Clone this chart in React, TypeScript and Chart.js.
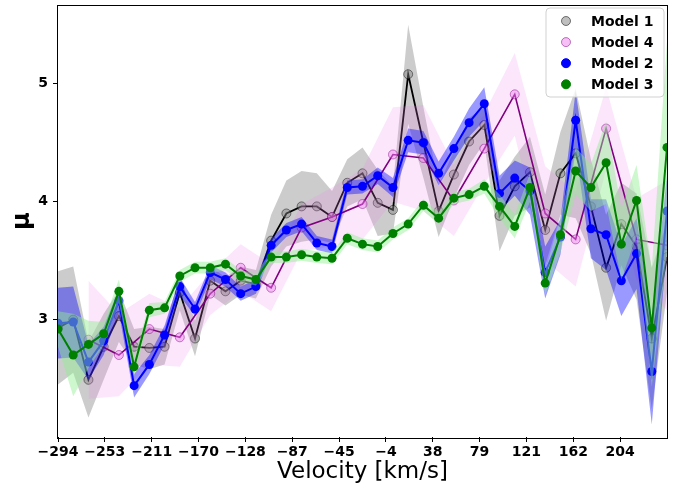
import React, { useEffect, useRef } from 'react';
import { Chart, registerables } from 'chart.js';

Chart.register(...registerables);

// ---- data ----
const VELOCITY = [
  -294, -280.53, -267.05, -253.58, -240.1, -226.63, -213.15, -199.68, -186.2, -172.73,
  -159.25, -145.78, -132.3, -118.83, -105.35, -91.88, -78.4, -64.93, -51.45, -37.98,
  -24.5, -11.03, 2.45, 15.93, 29.4, 42.88, 56.35, 69.83, 83.3, 96.78,
  110.25, 123.73, 137.2, 150.68, 164.15, 177.63, 191.1, 204.58, 218.05, 231.53, 245,
];

const X_TICKS = [-294, -252.54, -211.08, -169.62, -128.15, -86.69, -45.23, -3.77, 37.69, 79.15, 120.62, 162.08, 203.54];
const X_TICK_LABELS = ['−294', '−253', '−211', '−170', '−128', '−87', '−45', '−4', '38', '79', '121', '162', '204'];
const Y_TICKS = [3, 4, 5];

const MODEL1 = [
  2.93, 3.0, 2.49, 2.77, 3.03, 2.77, 2.76, 2.77, 3.23, 2.84,
  3.33, 3.24, 3.33, 3.3, 3.67, 3.9, 3.96, 3.96, 3.87, 4.16,
  4.24, 3.99, 3.93, 5.08, 4.5, 3.92, 4.23, 4.51, 4.65, 3.88,
  4.13, 4.25, 3.76, 4.24, 4.41, 3.96, 3.44, 3.81, 3.62, 2.84, 3.53,
];
const MODEL1_ERR = [
  0.48, 0.45, 0.32, 0.28, 0.22, 0.15, 0.18, 0.15, 0.15, 0.15,
  0.12, 0.12, 0.12, 0.12, 0.22, 0.28, 0.3, 0.28, 0.22, 0.2,
  0.22, 0.28, 0.2, 0.42, 0.3, 0.22, 0.2, 0.2, 0.15, 0.3,
  0.25, 0.3, 0.3, 0.35, 0.55, 0.4, 0.45, 0.35, 0.45, 0.6, 0.3,
];

const MODEL4 = [
  null, null, 2.83, null, 2.7, null, 2.92, null, 2.85, null,
  3.22, null, 3.44, null, 3.27, null, 3.78, null, 3.87, null,
  3.98, null, 4.4, null, 4.37, null, 4.01, null, 4.45, null,
  4.91, null, 3.9, null, 3.68, null, 4.62, null, 3.68, null, 3.63,
];
const MODEL4_ERR = [
  null, null, 0.5, null, 0.35, null, 0.3, null, 0.25, null,
  0.18, null, 0.2, null, 0.2, null, 0.2, null, 0.25, null,
  0.3, null, 0.4, null, 0.45, null, 0.3, null, 0.3, null,
  0.35, null, 0.4, null, 0.4, null, 0.35, null, 0.35, null, 0.55,
];

const MODEL2 = [
  2.97, 2.98, 2.64, 2.82, 3.16, 2.44, 2.62, 2.87, 3.28, 3.09,
  3.4, 3.34, 3.22, 3.28, 3.63, 3.76, 3.81, 3.65, 3.62, 4.12,
  4.13, 4.22, 4.12, 4.52, 4.5, 4.24, 4.45, 4.67, 4.83, 4.07,
  4.2, 4.09, 3.4, 3.7, 4.69, 3.77, 3.72, 3.33, 3.56, 2.56, 3.92,
];
const MODEL2_ERR = [
  0.3, 0.3, 0.15, 0.12, 0.1, 0.1, 0.08, 0.08, 0.08, 0.06,
  0.06, 0.06, 0.06, 0.06, 0.06, 0.06, 0.06, 0.06, 0.06, 0.06,
  0.06, 0.07, 0.08, 0.1, 0.1, 0.1, 0.1, 0.12, 0.14, 0.15,
  0.15, 0.2, 0.22, 0.15, 0.25, 0.25, 0.3, 0.3, 0.3, 0.45, 0.3,
];

const MODEL3 = [
  2.92, 2.7, 2.79, 2.88, 3.24, 2.6, 3.08, 3.1, 3.37, 3.44,
  3.44, 3.47, 3.37, 3.34, 3.53, 3.53, 3.55, 3.53, 3.52, 3.69,
  3.64, 3.62, 3.73, 3.81, 3.97, 3.86, 4.03, 4.06, 4.13, 3.96,
  3.79, 4.12, 3.31, 3.72, 4.26, 4.12, 4.33, 3.64, 4.01, 2.93, 4.46,
];
const MODEL3_ERR = [
  0.15, 0.35, 0.2, 0.1, 0.1, 0.08, 0.06, 0.05, 0.05, 0.05,
  0.05, 0.05, 0.05, 0.05, 0.05, 0.05, 0.05, 0.05, 0.05, 0.05,
  0.05, 0.05, 0.05, 0.05, 0.05, 0.05, 0.05, 0.05, 0.06, 0.1,
  0.1, 0.12, 0.1, 0.15, 0.2, 0.2, 0.35, 0.3, 0.3, 0.5, 0.9,
];

const LEGEND = [
  { label: 'Model 1', fill: 'rgba(128,128,128,0.5)', stroke: 'rgba(0,0,0,0.5)' },
  { label: 'Model 4', fill: 'rgba(238,130,238,0.5)', stroke: 'rgba(128,0,128,0.5)' },
  { label: 'Model 2', fill: '#0000ff', stroke: '#0000ff' },
  { label: 'Model 3', fill: '#008000', stroke: '#008000' },
];

type P = { x: number; y: number };
const pts = (ys: (number | null)[]): P[] =>
  VELOCITY.map((x, i) => ({ x, y: ys[i] as number })).filter((p) => p.y != null);
const bandPts = (ys: (number | null)[], es: (number | null)[], s: number): P[] =>
  VELOCITY.map((x, i) => (ys[i] == null ? null : { x, y: (ys[i] as number) + s * (es[i] as number) })).filter(
    (p): p is P => p != null
  );

const FONT = 'DejaVu Sans';

const framePlugin = {
  id: 'frameLegend',
  afterDraw(chart: any) {
    const { ctx, chartArea: a } = chart;
    ctx.save();
    ctx.strokeStyle = '#000';
    ctx.lineWidth = 1;
    ctx.strokeRect(Math.round(a.left) - 0.5, Math.round(a.top) - 0.5, Math.round(a.right - a.left) + 1, Math.round(a.bottom - a.top) + 1);

    // legend
    const bx = 546, by = 8, bw = 118, bh = 89, r = 4;
    ctx.beginPath();
    ctx.moveTo(bx + r, by);
    ctx.arcTo(bx + bw, by, bx + bw, by + bh, r);
    ctx.arcTo(bx + bw, by + bh, bx, by + bh, r);
    ctx.arcTo(bx, by + bh, bx, by, r);
    ctx.arcTo(bx, by, bx + bw, by, r);
    ctx.closePath();
    ctx.fillStyle = 'rgba(255,255,255,0.8)';
    ctx.fill();
    ctx.strokeStyle = 'rgba(204,204,204,0.9)';
    ctx.stroke();

    ctx.font = `bold 14px ${FONT}`;
    ctx.textBaseline = 'middle';
    ctx.textAlign = 'left';
    LEGEND.forEach((it, i) => {
      const cy = 21 + i * 21.1;
      ctx.beginPath();
      ctx.arc(566, cy, 4.5, 0, Math.PI * 2);
      ctx.fillStyle = it.fill;
      ctx.fill();
      ctx.strokeStyle = it.stroke;
      ctx.lineWidth = 1;
      ctx.stroke();
      ctx.fillStyle = '#000';
      ctx.fillText(it.label, 591, cy + 1);
    });
    ctx.restore();
  },
};

const hidden = {
  borderColor: 'rgba(0,0,0,0)',
  borderWidth: 0,
  pointRadius: 0,
};

export default function App() {
  const ref = useRef<HTMLCanvasElement | null>(null);

  useEffect(() => {
    document.body.style.margin = '0';
    const canvas = ref.current;
    if (!canvas) return;

    const datasets: any[] = [
      // Model 1
      { label: 'm1lo', data: bandPts(MODEL1, MODEL1_ERR, -1), fill: false, order: 8, ...hidden },
      { label: 'm1hi', data: bandPts(MODEL1, MODEL1_ERR, 1), fill: '-1', backgroundColor: 'rgba(128,128,128,0.4)', order: 8, ...hidden },
      {
        label: 'Model 1', data: pts(MODEL1), borderColor: '#000000', borderWidth: 1.8, fill: false, order: 7,
        pointRadius: 4.5, pointBackgroundColor: 'rgba(128,128,128,0.45)', pointBorderColor: 'rgba(0,0,0,0.45)', pointBorderWidth: 1,
      },
      // Model 4
      { label: 'm4lo', data: bandPts(MODEL4, MODEL4_ERR, -1), fill: false, order: 6, ...hidden },
      { label: 'm4hi', data: bandPts(MODEL4, MODEL4_ERR, 1), fill: '-1', backgroundColor: 'rgba(238,130,238,0.2)', order: 6, ...hidden },
      {
        label: 'Model 4', data: pts(MODEL4), borderColor: '#800080', borderWidth: 1.6, fill: false, order: 5,
        pointRadius: 4.5, pointBackgroundColor: 'rgba(238,130,238,0.45)', pointBorderColor: 'rgba(128,0,128,0.45)', pointBorderWidth: 1,
      },
      // Model 2
      { label: 'm2lo', data: bandPts(MODEL2, MODEL2_ERR, -1), fill: false, order: 4, ...hidden },
      { label: 'm2hi', data: bandPts(MODEL2, MODEL2_ERR, 1), fill: '-1', backgroundColor: 'rgba(0,0,255,0.4)', order: 4, ...hidden },
      {
        label: 'Model 2', data: pts(MODEL2), borderColor: '#0000ff', borderWidth: 2, fill: false, order: 3,
        pointRadius: 4.5, pointBackgroundColor: '#0000ff', pointBorderColor: '#0000ff', pointBorderWidth: 0,
      },
      // Model 3
      { label: 'm3lo', data: bandPts(MODEL3, MODEL3_ERR, -1), fill: false, order: 2, ...hidden },
      { label: 'm3hi', data: bandPts(MODEL3, MODEL3_ERR, 1), fill: '-1', backgroundColor: 'rgba(144,238,144,0.45)', order: 2, ...hidden },
      {
        label: 'Model 3', data: pts(MODEL3), borderColor: '#008000', borderWidth: 2, fill: false, order: 1,
        pointRadius: 4.5, pointBackgroundColor: '#008000', pointBorderColor: '#008000', pointBorderWidth: 0,
      },
    ];

    const chart = new Chart(canvas, {
      type: 'line',
      data: { datasets },
      options: {
        responsive: false,
        animation: false,
        events: [],
        layout: { padding: { top: 3, right: 12, left: 0, bottom: 0 } },
        elements: { line: { tension: 0 } },
        plugins: {
          legend: { display: false },
          tooltip: { enabled: false },
          filler: { propagate: false },
        },
        scales: {
          x: {
            type: 'linear',
            min: -294,
            max: 245,
            afterBuildTicks: (s: any) => {
              s.ticks = X_TICKS.map((value) => ({ value }));
            },
            afterFit: (s: any) => {
              s.height = 55;
              s.paddingLeft = 0;
              s.paddingRight = 0;
              s.paddingTop = 0;
              s.paddingBottom = 0;
            },
            ticks: {
              callback: (_v: any, i: number) => X_TICK_LABELS[i],
              font: { family: FONT, weight: 'bold', size: 14 },
              color: '#000',
              maxRotation: 0,
              autoSkip: false,
              padding: 2,
            },
            grid: { drawOnChartArea: false, drawTicks: true, tickLength: 5, color: '#000' },
            border: { display: false },
            title: {
              display: true,
              text: 'Velocity [km/s]',
              font: { family: FONT, size: 23 },
              color: '#000',
              padding: { top: 0, bottom: 6 },
            },
          },
          y: {
            type: 'linear',
            min: 2.005,
            max: 5.663,
            afterBuildTicks: (s: any) => {
              s.ticks = Y_TICKS.map((value) => ({ value }));
            },
            afterFit: (s: any) => {
              s.width = 58;
              s.paddingLeft = 0;
              s.paddingRight = 0;
              s.paddingTop = 0;
              s.paddingBottom = 0;
            },
            ticks: {
              callback: (v: any) => String(v),
              font: { family: FONT, weight: 'bold', size: 14 },
              color: '#000',
              padding: 5,
            },
            grid: { drawOnChartArea: false, drawTicks: true, tickLength: 5, color: '#000' },
            border: { display: false },
            title: {
              display: true,
              text: 'μ',
              font: { family: FONT, size: 24, weight: 'bold' },
              color: '#000',
              padding: { top: 8, bottom: 0 },
            },
          },
        },
      } as any,
      plugins: [framePlugin],
    });

    return () => chart.destroy();
  }, []);

  return (
    <div style={{ position: 'absolute', left: 0, top: 0, width: 679, height: 492, background: '#fff' }}>
      <canvas ref={ref} width={679} height={492} style={{ width: 679, height: 492, display: 'block' }} />
    </div>
  );
}
